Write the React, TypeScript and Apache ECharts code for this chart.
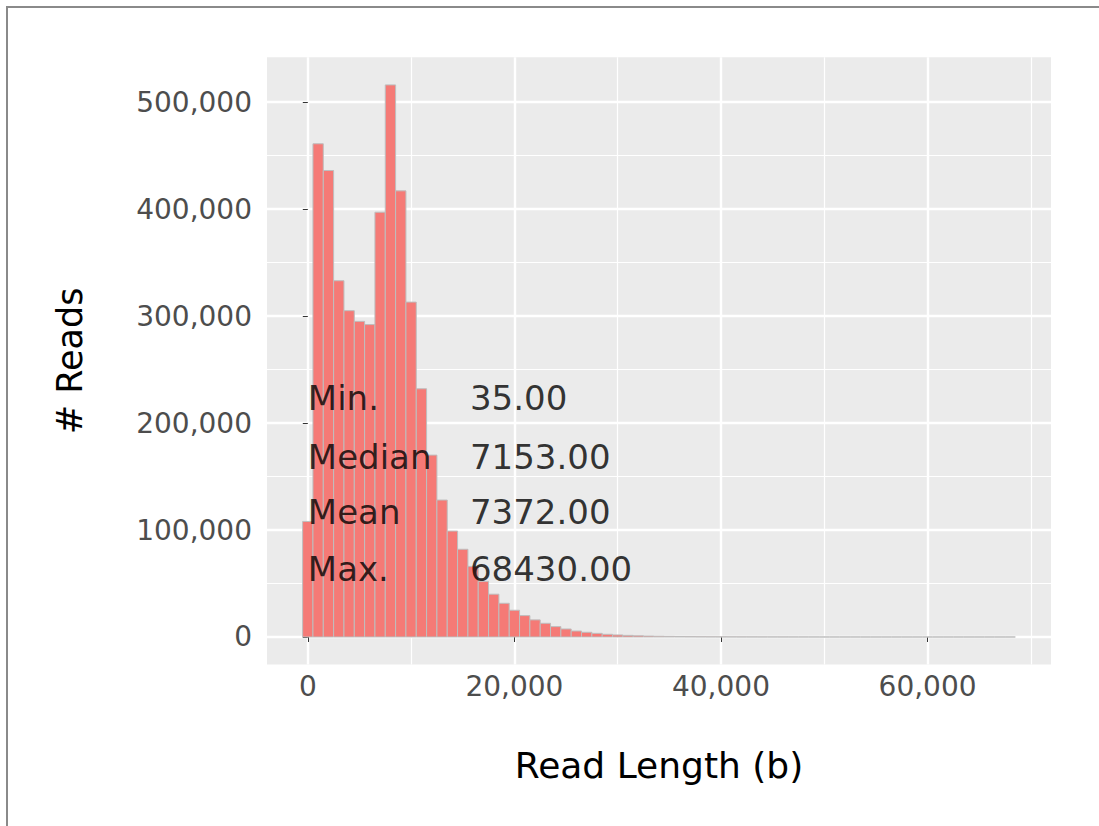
import React, { useEffect, useRef } from "react";
import * as echarts from "echarts";

// ---- data ----
const BIN_WIDTH = 1000;
const binCenters = [
  0, 1000, 2000, 3000, 4000, 5000, 6000, 7000, 8000, 9000,
  10000, 11000, 12000, 13000, 14000, 15000, 16000, 17000, 18000, 19000,
  20000, 21000, 22000, 23000, 24000, 25000, 26000, 27000, 28000, 29000,
  30000, 31000, 32000, 33000, 34000, 35000, 36000, 37000, 38000, 39000,
  40000, 41000, 42000, 43000, 44000, 45000, 46000, 47000, 48000, 49000,
  50000, 51000, 52000, 53000, 54000, 55000, 56000, 57000, 58000, 59000,
  60000, 61000, 62000, 63000, 64000, 65000, 66000, 67000, 68000,
];
const readCounts = [
  108000, 461000, 436000, 333000, 305000, 295000, 292000, 397000, 516000, 417000,
  313000, 232000, 170000, 128000, 99000, 82000, 66000, 52000, 40000, 31500,
  25000, 20000, 16000, 12800, 9700, 7500, 5600, 4400, 3400, 2500,
  1900, 1500, 1150, 900, 700, 550, 430, 340, 270, 210,
  170, 135, 110, 90, 72, 58, 47, 38, 31, 25,
  20, 16, 13, 11, 9, 7, 6, 5, 4, 3,
  3, 2, 2, 2, 1, 1, 1, 0, 1,
];
const xMajorTicks = [0, 20000, 40000, 60000];
const xMinorTicks = [10000, 30000, 50000, 70000];
const yMajorTicks = [0, 100000, 200000, 300000, 400000, 500000];
const yMinorTicks = [50000, 150000, 250000, 350000, 450000];
const X_LIMITS = [-3950, 71950];
const Y_LIMITS = [-25800, 541800];

const statNames = ["Min.", "Median", "Mean", "Max."];
const statValues = ["35.00", "7153.00", "7372.00", "68430.00"];
const statRowY = [223000, 168500, 116500, 64000];
const STAT_NAME_X = 0;
const STAT_VALUE_X = 15700;

const FONT = "DejaVu Sans";

export default function App() {
  const ref = useRef<HTMLDivElement>(null);

  useEffect(() => {
    if (!ref.current) return;
    const chart = echarts.init(ref.current, undefined, { renderer: "svg" });

    const gridLine = (w: number) => ({ show: true, lineStyle: { color: "#ffffff", width: w } });
    const fmt = (v: number) => v.toLocaleString("en-US");

    const option: any = {
      animation: false,
      backgroundColor: "#ffffff",
      grid: {
        left: 259,
        top: 49.3,
        width: 784,
        height: 607.3,
        show: true,
        backgroundColor: "#EBEBEB",
        borderWidth: 0,
      },
      xAxis: [
        {
          type: "value",
          min: X_LIMITS[0],
          max: X_LIMITS[1],
          name: "Read Length (b)",
          nameLocation: "middle",
          nameGap: 83,
          nameTextStyle: { fontFamily: FONT, fontSize: 36, color: "#000000" },
          axisLine: { show: false },
          axisTick: { show: true, length: 5, customValues: xMajorTicks, lineStyle: { color: "#333333", width: 1 } },
          axisLabel: {
            customValues: xMajorTicks,
            margin: 8,
            fontFamily: FONT,
            fontSize: 28,
            color: "#4D4D4D",
            formatter: fmt,
          },
          splitLine: gridLine(2.4),
        },
        {
          type: "value",
          min: X_LIMITS[0],
          max: X_LIMITS[1],
          position: "bottom",
          axisLine: { show: false },
          axisTick: { show: false, customValues: xMinorTicks },
          axisLabel: { show: false, customValues: xMinorTicks },
          splitLine: gridLine(1.2),
        },
      ],
      yAxis: [
        {
          type: "value",
          min: Y_LIMITS[0],
          max: Y_LIMITS[1],
          name: "# Reads",
          nameLocation: "middle",
          nameGap: 180,
          nameTextStyle: { fontFamily: FONT, fontSize: 35, color: "#000000" },
          axisLine: { show: false },
          axisTick: { show: true, length: 5, customValues: yMajorTicks, lineStyle: { color: "#333333", width: 1 } },
          axisLabel: {
            customValues: yMajorTicks,
            margin: 15,
            fontFamily: FONT,
            fontSize: 28,
            color: "#4D4D4D",
            formatter: fmt,
          },
          splitLine: gridLine(2.4),
        },
        {
          type: "value",
          min: Y_LIMITS[0],
          max: Y_LIMITS[1],
          position: "left",
          axisLine: { show: false },
          axisTick: { show: false, customValues: yMinorTicks },
          axisLabel: { show: false, customValues: yMinorTicks },
          splitLine: gridLine(1.2),
        },
      ],
      series: [
        {
          type: "custom",
          xAxisIndex: 0,
          yAxisIndex: 0,
          encode: { x: 0, y: 1 },
          data: binCenters.map((c, i) => [c, readCounts[i]]),
          renderItem: (params: any, api: any) => {
            const x = api.value(0);
            const y = api.value(1);
            const p0 = api.coord([x - BIN_WIDTH / 2, 0]);
            const p1 = api.coord([x + BIN_WIDTH / 2, y]);
            return {
              type: "rect",
              shape: { x: p0[0], y: p1[1], width: p1[0] - p0[0], height: p0[1] - p1[1] },
              style: { fill: "#F57A76", stroke: "#BEBEBE", lineWidth: 1 },
            };
          },
          z: 3,
        },
        {
          type: "scatter",
          xAxisIndex: 0,
          yAxisIndex: 0,
          symbolSize: 0,
          silent: true,
          z: 5,
          data: [
            ...statNames.map((n, i) => [STAT_NAME_X, statRowY[i], n]),
            ...statValues.map((v, i) => [STAT_VALUE_X, statRowY[i], v]),
          ],
          label: {
            show: true,
            position: "right",
            distance: 0,
            fontFamily: FONT,
            fontSize: 34,
            color: "#000000",
            formatter: (p: any) => p.data[2],
          },
        },
      ],
    };

    chart.setOption(option);
    return () => chart.dispose();
  }, []);

  return (
    <div style={{ position: "fixed", left: 0, top: 0, right: 0, bottom: 0, background: "#ffffff", overflow: "hidden" }}>
      <div
        style={{
          position: "absolute",
          left: 6,
          top: 6,
          width: 2000,
          height: 2000,
          border: "2px solid #8A8A8A",
        }}
      />
      <div ref={ref} style={{ position: "absolute", left: 8, top: 8, width: 1091, height: 818 }} />
    </div>
  );
}
